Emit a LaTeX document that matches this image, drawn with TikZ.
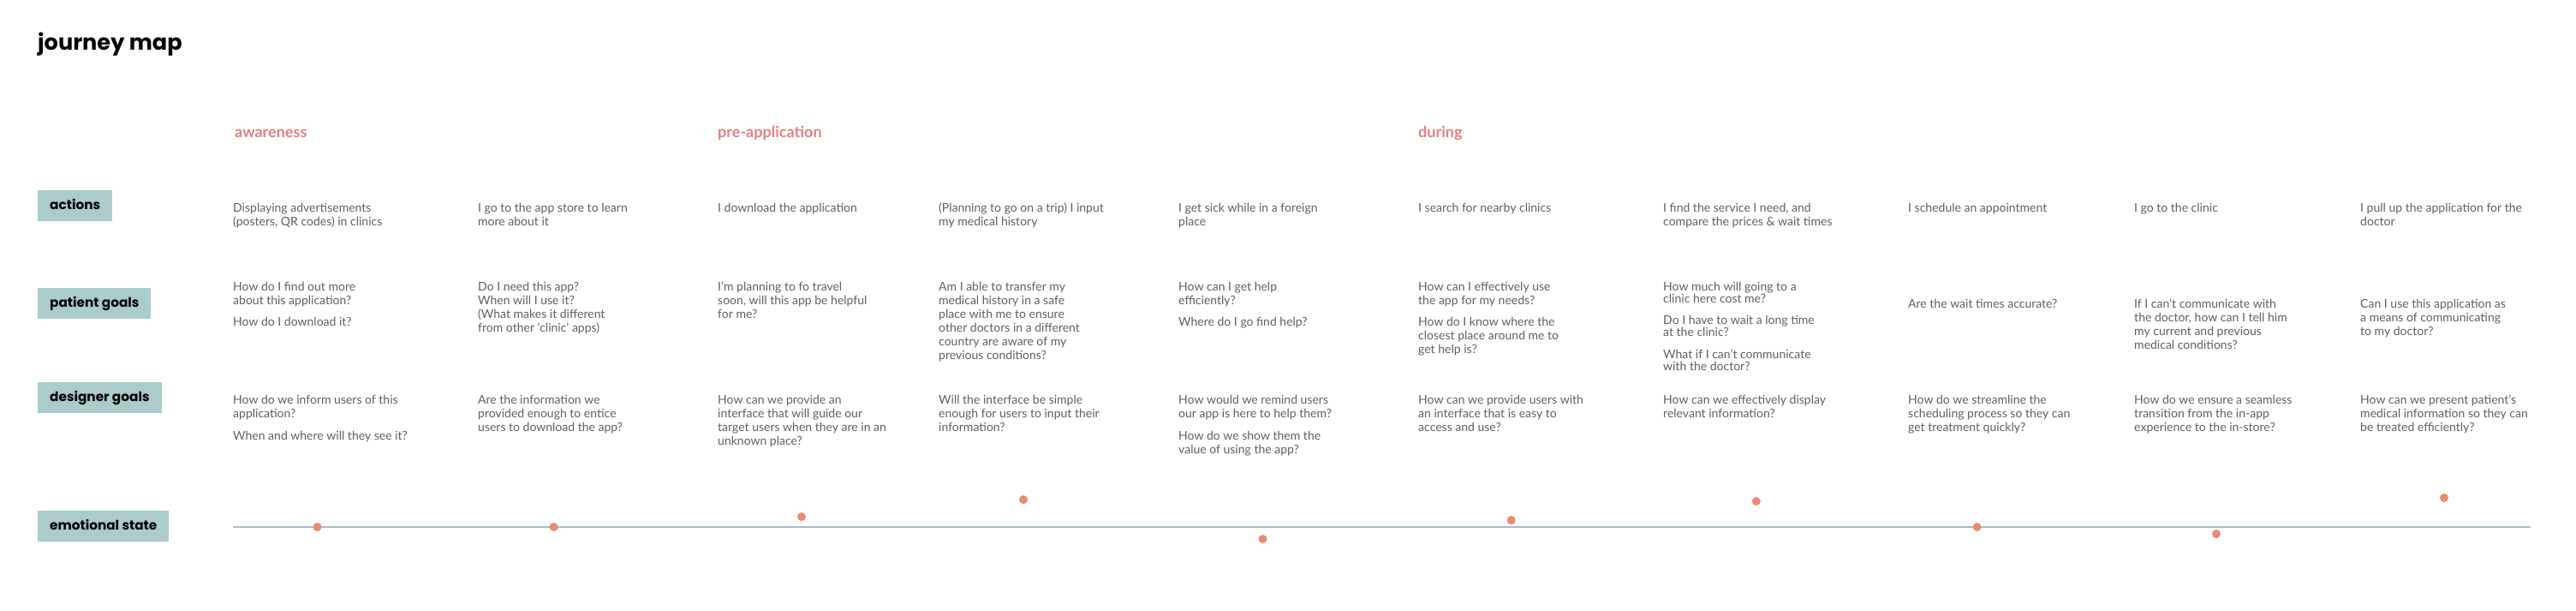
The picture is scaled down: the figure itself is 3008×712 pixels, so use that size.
\documentclass[tikz,border=0pt]{standalone}
\usepackage{fontspec}
\setmainfont{Lato}
\newfontfamily\labelfont{Poppins}
\definecolor{tealbox}{HTML}{AACCCB}
\definecolor{phasec}{HTML}{E67F7F}
\definecolor{dotc}{HTML}{EA8A70}
\definecolor{linec}{HTML}{A8BCCD}
\definecolor{bodyc}{HTML}{606060}
\newcommand{\ml}[1]{\begin{tabular}[t]{@{}l@{}}#1\end{tabular}}
\begin{document}
\begin{tikzpicture}[x=1pt,y=-1pt,
  body/.style={anchor=base west, inner sep=0pt, text=bodyc, font=\fontsize{14}{16}\selectfont},
  tightbody/.style={anchor=base west, inner sep=0pt, text=bodyc, font=\fontsize{14}{13.7}\selectfont},
  rowlabel/.style={anchor=north west, fill=tealbox, minimum height=36pt, inner xsep=14pt, inner ysep=0pt, text height=11pt, text depth=3pt, text=black, font=\labelfont\bfseries\fontsize{15.3}{18}\selectfont},
  phase/.style={anchor=base west, inner sep=0pt, text=phasec, font=\bfseries\fontsize{18}{20}\selectfont},
  emodot/.style={circle, fill=dotc, minimum size=10pt, inner sep=0pt},
  emoline/.style={draw=linec, line width=2pt}
]
\useasboundingbox (0,0) rectangle (3008,712);
\fill[white] (0,0) rectangle (3008,712);

% title
\node[anchor=base west, inner sep=0pt, font=\labelfont\bfseries\fontsize{25.6}{30}\selectfont] (title) at (44,58.5) {journey map};

% phases
\node[phase] (ph1) at (274,160.5) {awareness};
\node[phase] (ph2) at (838,160.5) {pre-application};
\node[phase] (ph3) at (1656,160.5) {during};

% row labels
\node[rowlabel] (lact) at (44,222) {actions};
\node[rowlabel] (lpat) at (44,336) {patient goals};
\node[rowlabel] (ldes) at (44,446) {designer goals};
\node[rowlabel] (lemo) at (44,596) {emotional state};

% actions
\node[body] (a1) at (272,247) {\ml{Displaying advertisements\\(posters, QR codes) in clinics}};
\node[body] (a2) at (558,247) {\ml{I go to the app store to learn\\more about it}};
\node[body] (a3) at (838,247) {\ml{I download the application}};
\node[body] (a4) at (1096,247) {\ml{(Planning to go on a trip) I input\\my medical history}};
\node[body] (a5) at (1376,247) {\ml{I get sick while in a foreign\\place}};
\node[body] (a6) at (1656,247) {\ml{I search for nearby clinics}};
\node[body] (a7) at (1942,247) {\ml{I find the service I need, and\\compare the prices \& wait times}};
\node[body] (a8) at (2228,247) {\ml{I schedule an appointment}};
\node[body] (a9) at (2492,247) {\ml{I go to the clinic}};
\node[body] (a10) at (2756,247) {\ml{I pull up the application for the\\doctor}};

% patient goals
\node[body] (p1) at (272,339) {\ml{How do I find out more\\about this application?\\[9.7pt]How do I download it?}};
\node[body] (p2) at (558,339) {\ml{Do I need this app?\\When will I use it?\\(What makes it different\\from other ‘clinic’ apps)}};
\node[body] (p3) at (838,339) {\ml{I’m planning to fo travel\\soon, will this app be helpful\\for me?}};
\node[body] (p4) at (1096,339) {\ml{Am I able to transfer my\\medical history in a safe\\place with me to ensure\\other doctors in a different\\country are aware of my\\previous conditions?}};
\node[body] (p5) at (1376,339) {\ml{How can I get help\\efficiently?\\[9.7pt]Where do I go find help?}};
\node[body] (p6) at (1656,339) {\ml{How can I effectively use\\the app for my needs?\\[9.7pt]How do I know where the\\closest place around me to\\get help is?}};
\node[tightbody] (p7) at (1942,339) {\ml{How much will going to a\\clinic here cost me?\\[10.6pt]Do I have to wait a long time\\at the clinic?\\[10.6pt]What if I can’t communicate\\with the doctor?}};
\node[body] (p8) at (2228,359.5) {\ml{Are the wait times accurate?}};
\node[body] (p9) at (2492,359.5) {\ml{If I can’t communicate with\\the doctor, how can I tell him\\my current and previous\\medical conditions?}};
\node[body] (p10) at (2756,359.5) {\ml{Can I use this application as\\a means of communicating\\to my doctor?}};

% designer goals
\node[body] (d1) at (272,471.5) {\ml{How do we inform users of this\\application?\\[9.7pt]When and where will they see it?}};
\node[body] (d2) at (558,471.5) {\ml{Are the information we\\provided enough to entice\\users to download the app?}};
\node[body] (d3) at (838,471.5) {\ml{How can we provide an\\interface that will guide our\\target users when they are in an\\unknown place?}};
\node[body] (d4) at (1096,471.5) {\ml{Will the interface be simple\\enough for users to input their\\information?}};
\node[body] (d5) at (1376,471.5) {\ml{How would we remind users\\our app is here to help them?\\[9.7pt]How do we show them the\\value of using the app?}};
\node[body] (d6) at (1656,471.5) {\ml{How can we provide users with\\an interface that is easy to\\access and use?}};
\node[body] (d7) at (1942,471.5) {\ml{How can we effectively display\\relevant information?}};
\node[body] (d8) at (2228,471.5) {\ml{How do we streamline the\\scheduling process so they can\\get treatment quickly?}};
\node[body] (d9) at (2492,471.5) {\ml{How do we ensure a seamless\\transition from the in-app\\experience to the in-store?}};
\node[body] (d10) at (2756,471.5) {\ml{How can we present patient’s\\medical information so they can\\be treated efficiently?}};

% emotional line
\coordinate (lineL) at (272,615);
\coordinate (lineR) at (2955,615);
\draw[emoline] (lineL) -- (lineR);

\node[emodot] (e1) at (370.5,615) {};
\node[emodot] (e2) at (646.7,615) {};
\node[emodot] (e3) at (936,603) {};
\node[emodot] (e4) at (1195,583) {};
\node[emodot] (e5) at (1474.5,629) {};
\node[emodot] (e6) at (1764.7,607) {};
\node[emodot] (e7) at (2050.8,585) {};
\node[emodot] (e8) at (2308.6,615) {};
\node[emodot] (e9) at (2588,623) {};
\node[emodot] (e10) at (2854,581) {};
\end{tikzpicture}
\end{document}
